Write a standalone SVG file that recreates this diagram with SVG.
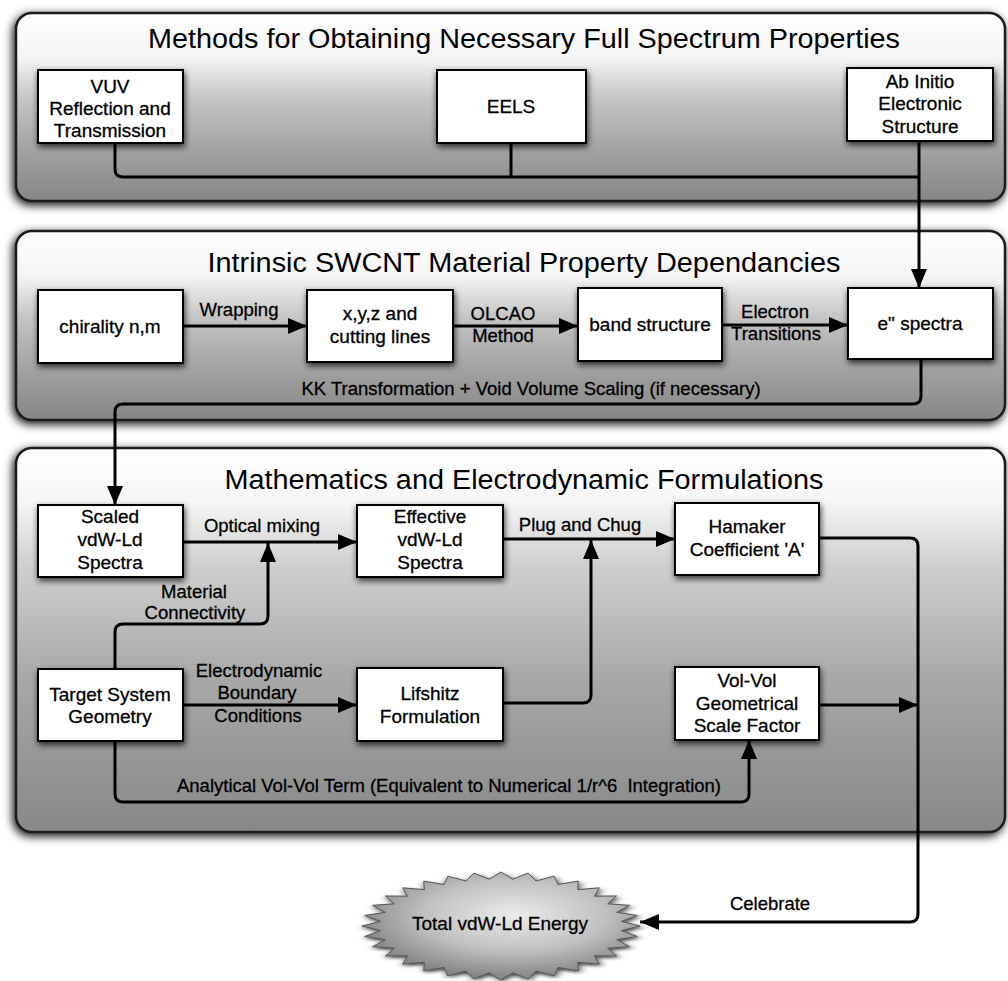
<svg xmlns="http://www.w3.org/2000/svg" width="1008" height="981" viewBox="0 0 1008 981">
  <defs>
    <linearGradient id="gradTop" x1="0" y1="0" x2="0" y2="1">
      <stop offset="0" stop-color="#ffffff"/>
      <stop offset="0.24" stop-color="#f4f4f4"/>
      <stop offset="0.46" stop-color="#c4c4c4"/>
      <stop offset="0.75" stop-color="#a0a0a0"/>
      <stop offset="1" stop-color="#868686"/>
    </linearGradient>
    <linearGradient id="gradBottom" x1="0" y1="0" x2="0" y2="1">
      <stop offset="0" stop-color="#ffffff"/>
      <stop offset="0.14" stop-color="#f6f6f6"/>
      <stop offset="0.30" stop-color="#d0d0d0"/>
      <stop offset="0.60" stop-color="#a8a8a8"/>
      <stop offset="1" stop-color="#888888"/>
    </linearGradient>
    <radialGradient id="gradStar" cx="0.55" cy="0.4" r="0.6">
      <stop offset="0" stop-color="#ececec"/>
      <stop offset="0.55" stop-color="#c0c0c0"/>
      <stop offset="1" stop-color="#808080"/>
    </radialGradient>
    <filter id="panelShadow" x="-5%" y="-10%" width="110%" height="125%">
      <feDropShadow dx="-2" dy="3" stdDeviation="5" flood-color="#000" flood-opacity="0.95"/>
    </filter>
    <filter id="boxShadow" x="-10%" y="-15%" width="125%" height="140%">
      <feDropShadow dx="1" dy="3" stdDeviation="3" flood-color="#000" flood-opacity="0.75"/>
    </filter>
    <marker id="arrow" markerUnits="userSpaceOnUse" markerWidth="19" markerHeight="16" refX="19" refY="8" orient="auto">
      <path d="M0,0 L19,8 L0,16 z" fill="#000"/>
    </marker>
    <style>
      .panel { stroke: #1a1a1a; stroke-width: 2.5; filter: url(#panelShadow); }
      .box { fill: #fff; stroke: #000; stroke-width: 2; filter: url(#boxShadow); }
      .title { font-family: "Liberation Sans", Arial, sans-serif; font-size: 27px; fill: #000; text-anchor: middle; }
      .t { font-family: "Liberation Sans", Arial, sans-serif; font-size: 19px; fill: #000; text-anchor: middle; stroke: #000; stroke-width: 0.3; }
      .lbl { font-family: "Liberation Sans", Arial, sans-serif; font-size: 18.5px; fill: #000; text-anchor: middle; stroke: #000; stroke-width: 0.3; }
      .wire { fill: none; stroke: #000; stroke-width: 3; }
      .arr { marker-end: url(#arrow); }
    </style>
  </defs>

  <rect width="1008" height="981" fill="#fff"/>

  <!-- panels -->
  <g id="panel-methods">
    <rect class="panel" x="16" y="13" width="989" height="188" rx="16" fill="url(#gradTop)"/>
    <text class="title" x="524" y="48" textLength="752" lengthAdjust="spacingAndGlyphs">Methods for Obtaining Necessary Full Spectrum Properties</text>
  </g>
  <g id="panel-intrinsic">
    <rect class="panel" x="16" y="231" width="989" height="189" rx="16" fill="url(#gradTop)"/>
    <text class="title" x="524" y="272" textLength="633" lengthAdjust="spacingAndGlyphs">Intrinsic SWCNT Material Property Dependancies</text>
  </g>
  <g id="panel-math">
    <rect class="panel" x="16" y="448" width="989" height="384" rx="16" fill="url(#gradBottom)"/>
    <text class="title" x="524" y="489" textLength="599" lengthAdjust="spacingAndGlyphs">Mathematics and Electrodynamic Formulations</text>
  </g>

  <!-- connectors -->
  <g id="connectors">
    <path class="wire" d="M115 143 V169 Q115 177 123 177 H919"/>
    <path class="wire" d="M511 143 V177"/>
    <path class="wire arr" d="M919 141 V288"/>
    <path class="wire arr" d="M183 326 H307"/>
    <path class="wire arr" d="M453 326 H578"/>
    <path class="wire arr" d="M722 325 H848"/>
    <path class="wire arr" d="M921 359 V396 Q921 404 913 404 H123 Q115 404 115 412 V505"/>
    <path class="wire arr" d="M183 542 H357"/>
    <path class="wire arr" d="M115 669 V632 Q115 624 123 624 H260 Q268 624 268 616 V543"/>
    <path class="wire arr" d="M503 539 H675"/>
    <path class="wire arr" d="M503 703 H583 Q591 703 591 695 V540"/>
    <path class="wire arr" d="M819 538 H910 Q918 538 918 546 V914 Q918 922 910 922 H640"/>
    <path class="wire arr" d="M819 705 H918"/>
    <path class="wire arr" d="M183 705 H357"/>
    <path class="wire arr" d="M115 741 V794 Q115 802 123 802 H741 Q749 802 749 794 V740"/>

    <text class="lbl" x="239" y="316">Wrapping</text>
    <text class="lbl" x="503" y="320">OLCAO</text>
    <text class="lbl" x="503" y="342">Method</text>
    <text class="lbl" x="775" y="318">Electron</text>
    <text class="lbl" x="776" y="340">Transitions</text>
    <text class="lbl" x="531" y="395">KK Transformation + Void Volume Scaling (if necessary)</text>
    <text class="lbl" x="262" y="532">Optical mixing</text>
    <text class="lbl" x="194" y="598">Material</text>
    <text class="lbl" x="195" y="619">Connectivity</text>
    <text class="lbl" x="580" y="531">Plug and Chug</text>
    <text class="lbl" x="259" y="677">Electrodynamic</text>
    <text class="lbl" x="257" y="699">Boundary</text>
    <text class="lbl" x="258" y="722">Conditions</text>
    <text class="lbl" x="449" y="792" xml:space="preserve">Analytical Vol-Vol Term (Equivalent to Numerical 1/r^6  Integration)</text>
    <text class="lbl" x="770" y="910">Celebrate</text>
  </g>

  <!-- nodes -->
  <g id="vuv">
    <rect class="box" x="38" y="70" width="145" height="73"/>
    <text class="t" x="110" y="93">VUV</text>
    <text class="t" x="110" y="115">Reflection and</text>
    <text class="t" x="110" y="137">Transmission</text>
  </g>
  <g id="eels">
    <rect class="box" x="437" y="70" width="149" height="73"/>
    <text class="t" x="511" y="113">EELS</text>
  </g>
  <g id="ab-initio">
    <rect class="box" x="847" y="68" width="146" height="73"/>
    <text class="t" x="920" y="88">Ab Initio</text>
    <text class="t" x="920" y="110">Electronic</text>
    <text class="t" x="920" y="133">Structure</text>
  </g>
  <g id="chirality">
    <rect class="box" x="38" y="290" width="145" height="73"/>
    <text class="t" x="110" y="333">chirality n,m</text>
  </g>
  <g id="xyz">
    <rect class="box" x="307" y="290" width="146" height="72"/>
    <text class="t" x="380" y="320">x,y,z and</text>
    <text class="t" x="380" y="343">cutting lines</text>
  </g>
  <g id="band-structure">
    <rect class="box" x="578" y="288" width="144" height="73"/>
    <text class="t" x="650" y="331">band structure</text>
  </g>
  <g id="e-spectra">
    <rect class="box" x="848" y="288" width="145" height="71"/>
    <text class="t" x="920" y="330">e" spectra</text>
  </g>
  <g id="scaled-spectra">
    <rect class="box" x="38" y="505" width="145" height="72"/>
    <text class="t" x="110" y="523">Scaled</text>
    <text class="t" x="110" y="546">vdW-Ld</text>
    <text class="t" x="110" y="569">Spectra</text>
  </g>
  <g id="effective-spectra">
    <rect class="box" x="357" y="505" width="146" height="72"/>
    <text class="t" x="430" y="523">Effective</text>
    <text class="t" x="430" y="546">vdW-Ld</text>
    <text class="t" x="430" y="569">Spectra</text>
  </g>
  <g id="hamaker">
    <rect class="box" x="675" y="503" width="144" height="72"/>
    <text class="t" x="747" y="533">Hamaker</text>
    <text class="t" x="747" y="556">Coefficient 'A'</text>
  </g>
  <g id="target-geometry">
    <rect class="box" x="38" y="669" width="145" height="72"/>
    <text class="t" x="110" y="701">Target System</text>
    <text class="t" x="110" y="723">Geometry</text>
  </g>
  <g id="lifshitz">
    <rect class="box" x="357" y="668" width="146" height="73"/>
    <text class="t" x="430" y="700">Lifshitz</text>
    <text class="t" x="430" y="723">Formulation</text>
  </g>
  <g id="vol-vol">
    <rect class="box" x="675" y="667" width="144" height="73"/>
    <text class="t" x="747" y="687">Vol-Vol</text>
    <text class="t" x="747" y="710">Geometrical</text>
    <text class="t" x="747" y="732">Scale Factor</text>
  </g>
  <g id="total-energy">
    <polygon transform="translate(501 926) scale(1.39 0.54)" fill="url(#gradStar)" stroke="#555" stroke-width="1" vector-effect="non-scaling-stroke" filter="url(#boxShadow)"
      points="100,0 86.58,8.53 98.08,19.51 83.25,25.25 92.39,38.27 76.73,41.01 83.15,55.56 67.25,55.19 70.71,70.71 55.19,67.25 55.56,83.15 41.01,76.73 38.27,92.39 25.25,83.25 19.51,98.08 8.53,86.58 0,100 -8.53,86.58 -19.51,98.08 -25.25,83.25 -38.27,92.39 -41.01,76.73 -55.56,83.15 -55.19,67.25 -70.71,70.71 -67.25,55.19 -83.15,55.56 -76.73,41.01 -92.39,38.27 -83.25,25.25 -98.08,19.51 -86.58,8.53 -100,0 -86.58,-8.53 -98.08,-19.51 -83.25,-25.25 -92.39,-38.27 -76.73,-41.01 -83.15,-55.56 -67.25,-55.19 -70.71,-70.71 -55.19,-67.25 -55.56,-83.15 -41.01,-76.73 -38.27,-92.39 -25.25,-83.25 -19.51,-98.08 -8.53,-86.58 0,-100 8.53,-86.58 19.51,-98.08 25.25,-83.25 38.27,-92.39 41.01,-76.73 55.56,-83.15 55.19,-67.25 70.71,-70.71 67.25,-55.19 83.15,-55.56 76.73,-41.01 92.39,-38.27 83.25,-25.25 98.08,-19.51 86.58,-8.53"/>
    <text class="t" x="500" y="930">Total vdW-Ld Energy</text>
  </g>
</svg>
